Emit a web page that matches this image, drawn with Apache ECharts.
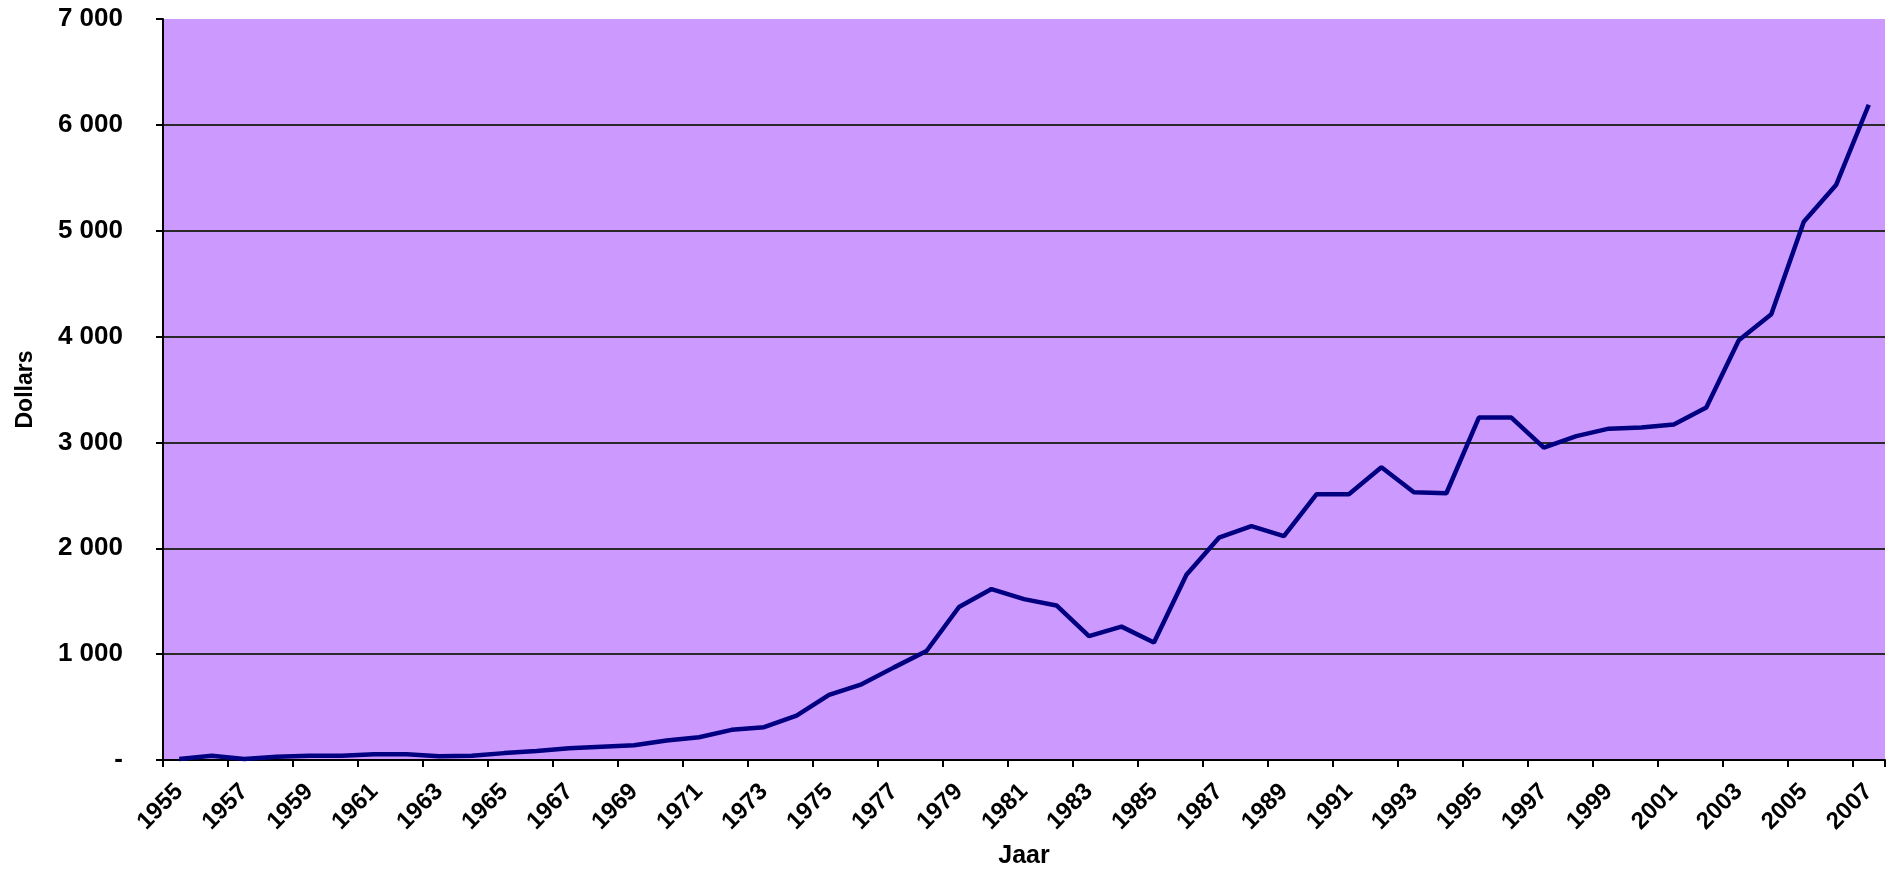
<!DOCTYPE html>
<html>
<head>
<meta charset="utf-8">
<script src="https://cdn.jsdelivr.net/npm/echarts@6/dist/echarts.min.js"></script>
<style>
  html, body { margin: 0; padding: 0; background: #fff; }
  #goudChart { width: 1894px; height: 874px; }
</style>
</head>
<body>
<div id="goudChart"></div>
<script>
// jaren op de x-as
const years = [
  "1955", "1956", "1957", "1958", "1959", "1960", "1961", "1962", "1963", "1964",
  "1965", "1966", "1967", "1968", "1969", "1970", "1971", "1972", "1973", "1974",
  "1975", "1976", "1977", "1978", "1979", "1980", "1981", "1982", "1983", "1984",
  "1985", "1986", "1987", "1988", "1989", "1990", "1991", "1992", "1993", "1994",
  "1995", "1996", "1997", "1998", "1999", "2000", "2001", "2002", "2003", "2004",
  "2005", "2006", "2007"
];

const dollars = [
  10, 40, 10, 30, 40, 40, 55, 55, 35, 40,
  65, 85, 110, 125, 140, 185, 215, 285, 310, 420,
  615, 715, 875, 1030, 1445, 1615, 1520, 1460, 1170, 1260,
  1110, 1750, 2100, 2210, 2115, 2510, 2510, 2765, 2530, 2520,
  3235, 3235, 2950, 3060, 3130, 3140, 3170, 3330, 3965, 4210,
  5085, 5435, 6190
];

const yTicks = [0, 1000, 2000, 3000, 4000, 5000, 6000, 7000];
const yTickLabels = ["-", "1 000", "2 000", "3 000", "4 000", "5 000", "6 000", "7 000"];

const font = "'Liberation Sans', Arial, sans-serif";
let chart = null;

function initChart() {
  chart.setOption({
    animation: false,
    grid: {
      left: 163,
      right: 9,
      top: 19,
      bottom: 112,
      show: true,
      backgroundColor: "#CC99FF",
      borderWidth: 0
    },
    xAxis: {
      type: "category",
      data: years,
      boundaryGap: true,
      name: "Jaar",
      nameLocation: "middle",
      nameGap: 84,
      nameTextStyle: { fontFamily: font, fontWeight: "bold", fontSize: 25, color: "#000" },
      axisLine: { lineStyle: { color: "#000", width: 2 } },
      axisTick: { show: true, interval: 1, length: 7, lineStyle: { color: "#000", width: 2 } },
      axisLabel: {
        interval: 1,
        rotate: 45,
        margin: 28,
        fontFamily: font,
        fontWeight: "bold",
        fontSize: 24,
        color: "#000"
      },
      splitLine: { show: false }
    },
    yAxis: {
      type: "value",
      min: yTicks[0],
      max: yTicks[yTicks.length - 1],
      interval: 1000,
      name: "Dollars",
      nameLocation: "middle",
      nameRotate: 90,
      nameGap: 126,
      nameTextStyle: { fontFamily: font, fontWeight: "bold", fontSize: 23, color: "#000" },
      axisLine: { show: true, lineStyle: { color: "#000", width: 2 } },
      axisTick: { show: true, length: 7, lineStyle: { color: "#000", width: 2 } },
      axisLabel: {
        margin: 40,
        fontFamily: font,
        fontWeight: "bold",
        fontSize: 26,
        color: "#000",
        formatter: function (v) {
          const i = yTicks.indexOf(v);
          return i >= 0 ? yTickLabels[i] : "";
        }
      },
      splitLine: {
        show: true,
        showMinLine: false,
        showMaxLine: false,
        lineStyle: { color: "#2a2a2a", width: 2 }
      }
    },
    series: [
      {
        name: "Dollars",
        type: "line",
        data: dollars,
        symbol: "none",
        lineStyle: { color: "#000080", width: 4.5 },
        itemStyle: { color: "#000080" }
      }
    ]
  });
}

chart = echarts.init(document.getElementById("goudChart"));
initChart();
</script>
</body>
</html>
